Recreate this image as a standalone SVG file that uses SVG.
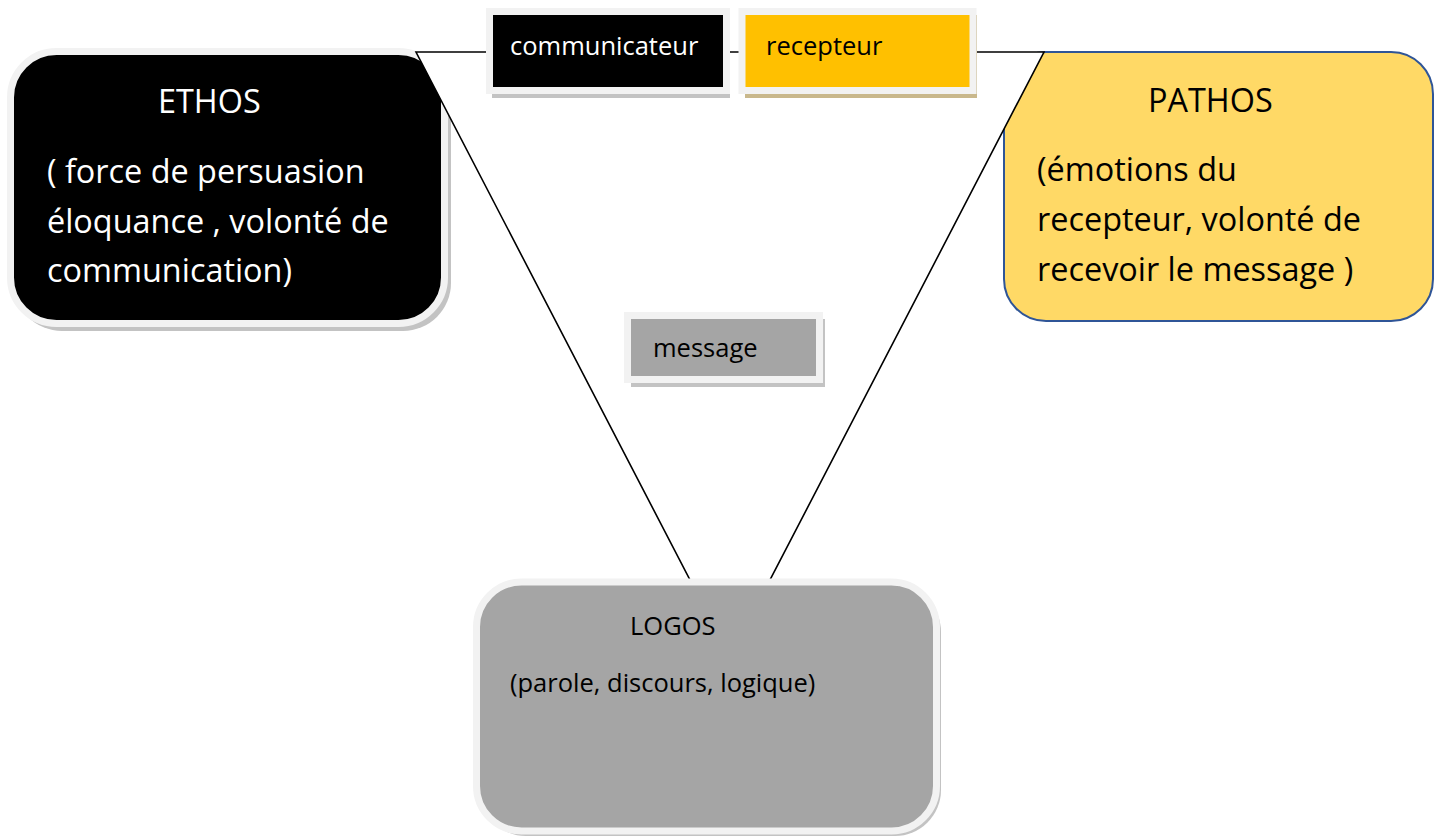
<svg xmlns="http://www.w3.org/2000/svg" width="1443" height="837" viewBox="0 0 1443 837">
<style>
.big{font-family:"Open Sans","Liberation Sans",sans-serif;font-size:32.4px}
.small{font-family:"Open Sans","Liberation Sans",sans-serif;font-size:25.5px}
.frame{stroke:#f2f2f2;stroke-width:7}
.shadow{fill:#c3c3c3}
</style>
<rect width="1443" height="837" fill="#ffffff"/>
<g id="ethos">
<rect class="shadow" x="14" y="55" width="437" height="276" rx="48"/>
<rect class="frame" x="10.5" y="51.5" width="434" height="272" rx="46" fill="#000000"/>
<text class="big" x="158" y="113" fill="#ffffff">ETHOS</text>
<text class="big" x="47" y="183" fill="#ffffff">( force de persuasion</text>
<text class="big" x="47" y="233" fill="#ffffff">éloquance , volonté de</text>
<text class="big" x="47" y="282" fill="#ffffff">communication)</text>
</g>
<g id="pathos">
<rect x="1004" y="52" width="429" height="269" rx="42" fill="#ffd966" stroke="#2f5597" stroke-width="2"/>
<text class="big" x="1148" y="112" fill="#000000">PATHOS</text>
<text class="big" x="1037" y="181" fill="#000000">(émotions du</text>
<text class="big" x="1037" y="231" fill="#000000">recepteur, volonté de</text>
<text class="big" x="1037" y="281" fill="#000000">recevoir le message )</text>
</g>
<g id="connectors">
<polygon points="416,52 1044,52 730,657" fill="#ffffff" stroke="#000000" stroke-width="1.6" stroke-linejoin="miter"/>
</g>
<g id="communicateur">
<rect class="shadow" x="492" y="15" width="238" height="83"/>
<rect class="frame" x="489.5" y="11.5" width="237" height="79" fill="#000000"/>
<text class="small" x="510" y="55" fill="#ffffff">communicateur</text>
</g>
<g id="recepteur">
<rect x="745" y="15" width="232" height="83" fill="#c9b88c"/>
<rect class="frame" x="742" y="11.5" width="231" height="79" fill="#ffc000"/>
<text class="small" x="766" y="55" fill="#000000">recepteur</text>
</g>
<g id="message">
<rect class="shadow" x="631" y="319" width="194" height="68"/>
<rect class="frame" x="627.5" y="315.5" width="192" height="64" fill="#a5a5a5"/>
<text class="small" x="653" y="357" fill="#000000">message</text>
</g>
<g id="logos">
<rect class="shadow" x="480" y="586" width="461" height="250" rx="46"/>
<rect class="frame" x="476.5" y="582" width="460" height="249" rx="45" fill="#a5a5a5"/>
<text class="small" x="630" y="635" fill="#000000">LOGOS</text>
<text class="small" x="510" y="692" fill="#000000">(parole, discours, logique)</text>
</g>
</svg>
